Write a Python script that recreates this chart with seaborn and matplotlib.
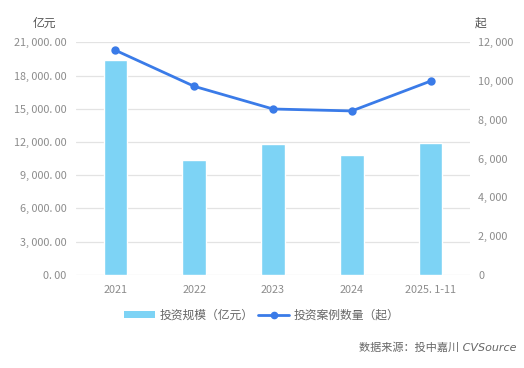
import numpy as np
import pandas as pd
import matplotlib
matplotlib.use("Agg")
import matplotlib.pyplot as plt
import seaborn as sns
from matplotlib.patches import Patch
from matplotlib.lines import Line2D

years = ["2021", "2022", "2023", "2024", "2025.1-11"]
invest_scale = [19400, 10380, 11820, 10830, 11940]   # 亿元
invest_cases = [11590, 9730, 8560, 8460, 10000]      # 起

left_ticks = np.arange(0, 21001, 3000)
right_ticks = np.arange(0, 12001, 2000)

sns.set_style("white")
plt.rcParams['font.family'] = ['Noto Sans CJK SC', 'DejaVu Sans']

bar_color = "#7dd3f5"
line_color = "#3a7be8"
grey = "#8c8c8c"

df = pd.DataFrame({"year": years, "scale": invest_scale, "cases": invest_cases})

fig = plt.figure(figsize=(5.24, 3.68), dpi=100)
ax = fig.add_axes([0.145, 0.253, 0.752, 0.632])

sns.barplot(data=df, x="year", y="scale", color=bar_color, width=0.3,
            saturation=1, ax=ax, zorder=2)
ax.set_ylim(0, 21000)
ax.set_yticks(left_ticks)
ax.set_yticklabels([f"{v:,.2f}".replace(",", ", ").replace(".", ". ") for v in left_ticks])
ax.set_xticks(range(len(years)))
ax.set_xticklabels([y.replace(".", ". ") for y in years])
ax.grid(axis="y", color="#e3e3e3", linewidth=0.9, zorder=0)
ax.set_axisbelow(True)
ax.set_xlabel("")
ax.set_ylabel("")
ax.tick_params(axis="both", length=0, labelsize=7.8, colors=grey, pad=7)
for s in ax.spines.values():
    s.set_visible(False)
ax.set_xlim(-0.5, len(years) - 0.5)

ax2 = ax.twinx()
sns.pointplot(data=df, x="year", y="cases", color=line_color, markers="o",
              linestyles="-", ax=ax2, markersize=4.5, linewidth=2)
ax2.set_ylim(0, 12000)
ax2.set_yticks(right_ticks)
ax2.set_yticklabels([f"{v:,}".replace(",", ", ") for v in right_ticks])
ax2.set_ylabel("")
ax2.set_xlabel("")
ax2.tick_params(axis="y", length=0, labelsize=7.8, colors=grey, pad=6)
for s in ax2.spines.values():
    s.set_visible(False)
ax2.set_xlim(-0.5, len(years) - 0.5)

fig.text(0.063, 0.937, "亿元", fontsize=8.5, color="#555555", ha="left", va="center")
fig.text(0.906, 0.937, "起", fontsize=8.5, color="#555555", ha="left", va="center")

handles = [Patch(facecolor=bar_color, edgecolor="none", label="投资规模（亿元）"),
           Line2D([0], [0], color=line_color, marker="o", markersize=4.5,
                  linewidth=2, label="投资案例数量（起）")]
fig.legend(handles=handles, loc="center", bbox_to_anchor=(0.5, 0.143), ncol=2,
           frameon=False, fontsize=8.5, labelcolor="#666666", handlelength=2.6,
           handleheight=0.6, columnspacing=0.4, handletextpad=0.4)

fig.text(0.985, 0.056, "数据来源：投中嘉川 CVSource", fontsize=8, color="#666666",
         ha="right", va="center", style="italic",
         family=['DejaVu Sans', 'Noto Sans CJK SC'])

fig.savefig("out.png", dpi=100)
